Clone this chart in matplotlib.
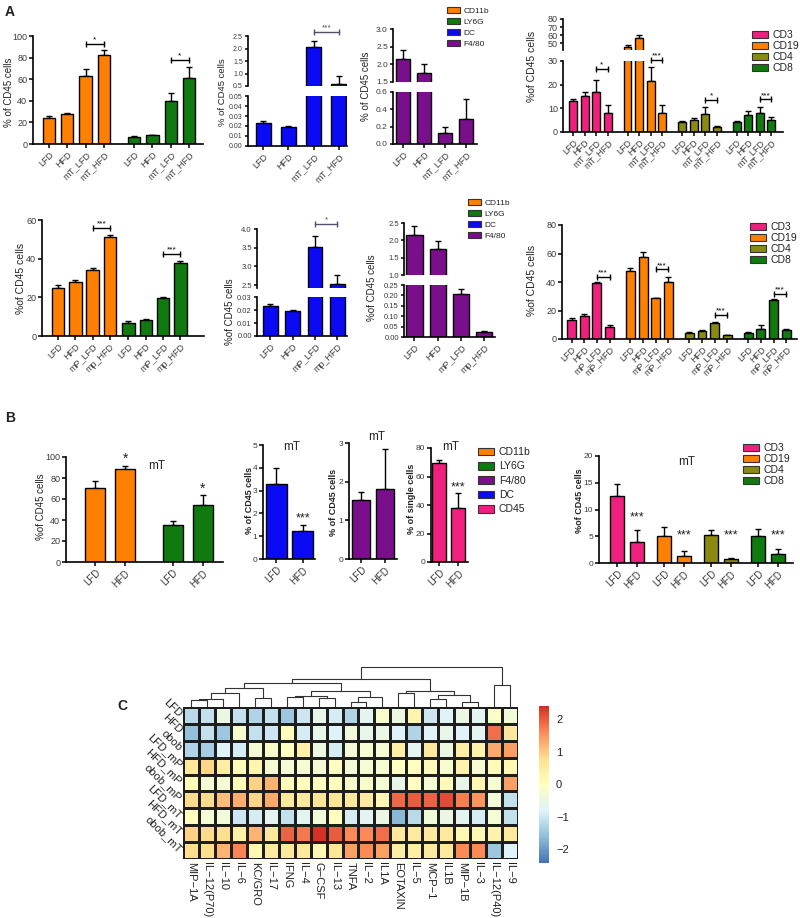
import numpy as np
import matplotlib
matplotlib.use("Agg")
import matplotlib.pyplot as plt
from matplotlib.patches import Patch
from matplotlib.colors import LinearSegmentedColormap

plt.rcParams['font.family'] = ['Liberation Sans', 'DejaVu Sans']

# ---------------- data ----------------
ORANGE = '#FF8000'
GREEN = '#107A10'
BLUE = '#0A0AF5'
PURPLE = '#7A0F8C'
PINK = '#F0207F'
OLIVE = '#8A8A10'

lab_mT = ["LFD", "HFD", "mT_LFD", "mT_HFD"]
lab_mp = ["LFD", "HFD", "mP_LFD", "mp_HFD"]
lab_mP = ["LFD", "HFD", "mP_LFD", "mP_HFD"]
lab_b = ["LFD", "HFD"]

# A, row 1 (mT)
a1_cd11b = [24, 27.5, 63, 82]
a1_cd11b_top = [26, 29, 69, 87]
a1_ly6g = [6.5, 8, 40, 61]
a1_ly6g_top = [7.5, 8.7, 47, 71]
a1_my_sig = [93, 77.5]
a1_my_star = ["*", "*"]

a1_dc = [0.023, 0.019, 2.08, 0.6]
a1_dc_top = [0.025, 0.0201, 2.32, 0.9]
a1_dc_sig = 2.65

a1_f480 = [2.15, 1.75, 0.125, 0.29]
a1_f480_top = [2.4, 2.0, 0.2, 0.52]

a1_cd3 = [13.1, 15, 16.8, 8]
a1_cd3_top = [14, 16.9, 22, 11.3]
a1_cd19 = [46, 56.5, 21.5, 8]
a1_cd19_top = [48.5, 60, 27.5, 11.5]
a1_cd4 = [4.3, 5, 7.7, 2]
a1_cd4_top = [4.8, 5.8, 10.5, 2.5]
a1_cd8 = [4.2, 7, 8.2, 5.2]
a1_cd8_top = [4.7, 9, 10.5, 6.3]
a1_ly_sig = [26.5, 30.4, 13.5, 13.8]
a1_ly_star = ["*", "***", "*", "***"]

# A, row 2 (mP)
a2_cd11b = [24.7, 27.8, 34, 51.4]
a2_cd11b_top = [26.4, 29, 35, 52]
a2_ly6g = [6.9, 8.3, 19.5, 37.9]
a2_ly6g_top = [7.8, 8.9, 20.3, 38.6]
a2_my_sig = [55.9, 42.4]

a2_dc = [0.023, 0.019, 3.53, 2.52]
a2_dc_top = [0.025, 0.020, 3.8, 2.77]
a2_dc_sig = 4.13

a2_f480 = [2.15, 1.75, 0.207, 0.024]
a2_f480_top = [2.4, 1.98, 0.23, 0.027]

a2_cd3 = [13.5, 15.8, 39.6, 8.6]
a2_cd3_top = [14.7, 17.5, 40, 9.8]
a2_cd19 = [47.8, 57.8, 28.7, 39.9]
a2_cd19_top = [50.1, 60.8, 29.1, 43.4]
a2_cd4 = [4.5, 5.5, 11.3, 2.5]
a2_cd4_top = [5.2, 6.2, 11.7, 3.0]
a2_cd8 = [4.5, 7.2, 27.5, 6]
a2_cd8_top = [5, 9.5, 28, 7]
a2_ly_sig = [43.7, 48.9, 16.8, 31.6]

# B (mT)
b_cd11b = [70.5, 88.3]
b_cd11b_top = [76.8, 91]
b_ly6g = [35.6, 54.6]
b_ly6g_top = [38.7, 64]
b_my_sig = [98, 70]
b_dc = [3.28, 1.21]
b_dc_top = [4.0, 1.5]
b_dc_sig = 1.8
b_f480 = [1.53, 1.81]
b_f480_top = [1.72, 2.85]
b_cd45 = [69.5, 38.1]
b_cd45_top = [71.3, 48.4]
b_cd45_sig = 52
b_cd3 = [12.6, 3.9]
b_cd3_top = [14.7, 6.1]
b_cd19 = [5.1, 1.4]
b_cd19_top = [6.75, 2.25]
b_cd4 = [5.2, 0.75]
b_cd4_top = [6.1, 1.0]
b_cd8 = [5.1, 1.6]
b_cd8_top = [6.4, 2.7]
b_ly_sig = [8.6, 5.2, 5.2, 5.2]

# C heatmap
hm_rows = ["LFD", "HFD", "obob", "LFD_mP", "HFD_mP", "obob_mP",
           "LFD_mT", "HFD_mT", "obob_mT"]
hm_cols = ["MIP\u22121A", "IL\u221212(P70)", "IL\u221210", "IL\u22126", "KC/GRO",
           "IL\u221217", "IFNG", "IL\u22124", "G\u2212CSF", "IL\u221213", "TNFA",
           "IL\u22122", "IL1A", "EOTAXIN", "IL\u22125", "MCP\u22121", "IL1B",
           "MIP\u22121B", "IL\u22123", "IL\u221212(P40)", "IL\u22129"]
hm_vals = [
    [-1.2, -1.1, -0.5, -1.1, -1.3, -1.1, -1.5, -1.0, -0.6, -0.9, -1.3, -0.7, -0.2, -0.45, 0.25, -1.0, -0.8, -0.5, -0.7, -0.15, -0.4],
    [-1.6, -1.1, -1.5, -0.25, -1.1, -1.0, 0.05, -0.9, -0.6, -0.8, -0.4, -0.6, -0.5, -0.8, -1.3, -0.8, -0.6, -0.8, -0.7, 1.85, 0.6],
    [-1.3, -1.4, -0.8, -0.9, -0.3, -0.2, -0.05, 0.35, -0.45, -0.9, -0.35, -0.25, -0.3, 0.4, -0.7, 0.55, -0.45, 0.45, 0.3, 1.3, 1.4],
    [0.6, 0.9, 0.45, 0.05, 0.25, -0.3, -0.35, -0.3, -0.35, -0.1, -0.35, -0.3, -0.3, -0.05, 0.0, 0.05, -0.25, 0.3, -0.3, 0.1, 0.2],
    [0.1, -0.3, -0.3, 0.05, 0.95, 1.2, 0.05, 0.0, -0.05, 0.0, -0.2, -0.2, -0.3, -0.6, 0.0, -0.3, 0.1, -0.6, 0.2, -0.3, 1.4],
    [0.85, 0.85, 1.1, 1.25, 0.9, 1.3, 0.6, 0.55, 0.7, 0.65, 0.6, 0.5, 0.2, 1.9, 2.0, 1.95, 2.15, 1.7, 1.5, -0.4, -1.1],
    [0.0, -0.3, -0.4, -1.0, -0.9, -0.7, -1.1, -0.7, -0.4, 0.0, -0.9, -0.7, -0.5, -1.7, -1.2, -0.4, -0.5, -0.7, -0.9, -0.3, -1.1],
    [0.95, 0.85, 0.8, 0.4, 1.2, 0.6, 1.95, 1.75, 2.4, 2.0, 1.6, 1.6, 1.85, 0.6, 0.5, 0.55, 0.6, 0.2, 0.15, 0.3, 0.6],
    [0.8, 0.8, 1.2, 1.65, 0.2, 0.5, 0.55, 0.6, 0.15, 0.65, 1.4, 1.6, 1.4, 0.45, 0.45, 0.5, 0.6, 1.6, 1.6, -1.5, -0.8],
]
# column dendrogram: (left, right, height) like a linkage table
col_tree = [
    (0, 1, 7.3), (21, 2, 8.0), (22, 3, 14.3), (4, 5, 9.3), (23, 24, 18.7),
    (6, 7, 10.3), (8, 9, 8.7), (26, 27, 11.3), (10, 11, 5.3), (29, 12, 9.7),
    (28, 30, 16.3), (25, 31, 23.7), (13, 14, 13.7), (15, 16, 7.7), (17, 18, 5.3),
    (34, 35, 12.0), (33, 36, 16.3), (32, 37, 27.7), (19, 20, 22.0), (38, 39, 40.3),
]

# ---------------- helpers ----------------
W, H = 800, 918
fig = plt.figure(figsize=(8, 9.18), dpi=100)


def ax_px(x0, y0, x1, y1):
    return fig.add_axes([x0 / W, 1 - y1 / H, (x1 - x0) / W, (y1 - y0) / H])


def style(ax, fs=6.5, bottom=True):
    ax.spines['top'].set_visible(False)
    ax.spines['right'].set_visible(False)
    ax.spines['left'].set_linewidth(1.2)
    ax.spines['bottom'].set_linewidth(1.2)
    ax.tick_params(direction='out', length=3, width=1.1, labelsize=fs,
                   labelcolor='#3a3a3a', pad=1.2)
    ax.set_facecolor('none')
    if not bottom:
        ax.spines['bottom'].set_visible(False)
        ax.tick_params(axis='x', bottom=False, labelbottom=False)


def draw_bars(ax, x, mean, top, color, width):
    ax.bar(x, mean, width=width, color=color, edgecolor='black', linewidth=1.0, zorder=2)
    ax.errorbar(x, mean, yerr=[np.zeros(len(mean)), np.subtract(top, mean)], fmt='none',
                ecolor='black', elinewidth=1.0, capsize=2.5, capthick=1.0, zorder=1)


def bracket(ax, x1, x2, y, text, color='black', fs=6):
    ax.plot([x1, x2], [y, y], color=color, lw=1.0, marker='|', markersize=5,
            markeredgewidth=1.0, clip_on=False, zorder=4)
    ax.annotate(text, (0.5 * (x1 + x2), y), xytext=(0, 0.3), textcoords='offset points',
                ha='center', va='bottom', fontsize=fs, color=color, annotation_clip=False)


def xlabels(ax, pos, labels, fs=6.5):
    ax.set_xticks(pos)
    ax.set_xticklabels(labels, rotation=45, ha='right', rotation_mode='anchor', fontsize=fs)


def ylab(x, y, text, fs=7, bold=False):
    fig.text(x / W, 1 - y / H, text, rotation=90, ha='center', va='center', fontsize=fs,
             fontweight='bold' if bold else 'normal', color='#222222')


def ftext(x, y, text, fs=8.5, bold=False):
    fig.text(x / W, 1 - y / H, text, ha='center', va='center', fontsize=fs,
             fontweight='bold' if bold else 'normal', color='#222222')


def legend(labels, colors, x, y, fs, spacing):
    handles = [Patch(facecolor=c, edgecolor='#333333', linewidth=0.8) for c in colors]
    fig.legend(handles, labels, loc='upper left', bbox_to_anchor=(x / W, 1 - y / H),
               frameon=False, fontsize=fs, handlelength=1.5, handleheight=0.75,
               handletextpad=0.5, labelspacing=spacing, borderpad=0, borderaxespad=0,
               labelcolor='#222222')


def group_x(n_groups, n_bars, pitch):
    return [g * pitch + np.arange(n_bars) for g in range(n_groups)]


def broken(xr, low_y, up_y, low_lim, up_lim, low_ticks, up_ticks, low_fmt, up_fmt, fs=5.5):
    lo = ax_px(xr[0], low_y[0], xr[1], low_y[1])
    up = ax_px(xr[0], up_y[0], xr[1], up_y[1])
    style(lo, fs)
    style(up, fs, bottom=False)
    lo.tick_params(axis='x', labelsize=6.5)
    lo.set_ylim(*low_lim)
    up.set_ylim(*up_lim)
    lo.set_yticks(low_ticks)
    up.set_yticks(up_ticks)
    lo.set_yticklabels([low_fmt % t for t in low_ticks])
    up.set_yticklabels([up_fmt % t for t in up_ticks])
    for a in (lo, up):
        a.tick_params(axis='y', length=2.5)
    return lo, up


# ---------------- Panel A row 1 ----------------
ax = ax_px(33, 36, 203, 144)
style(ax)
xs = group_x(2, 4, 4.67)
draw_bars(ax, xs[0], a1_cd11b, a1_cd11b_top, ORANGE, 0.68)
draw_bars(ax, xs[1], a1_ly6g, a1_ly6g_top, GREEN, 0.68)
for g in range(2):
    bracket(ax, xs[g][2], xs[g][3], a1_my_sig[g], a1_my_star[g])
ax.set_xlim(-0.88, 8.44)
ax.set_ylim(0, 100)
ax.set_yticks(range(0, 101, 20))
xlabels(ax, np.concatenate(xs), lab_mT * 2)
ylab(9, 92, "% of CD45 cells")

x4 = np.arange(4)
lo, up = broken((248, 347), (96, 146), (36, 86), (0, 0.05), (0.5, 2.5),
                np.arange(0, 0.051, 0.01), np.arange(0.5, 2.51, 0.5), "%.2f", "%.1f", fs=5)
for a in (lo, up):
    draw_bars(a, x4, a1_dc, a1_dc_top, BLUE, 0.6)
    a.set_xlim(-0.6, 3.32)
xlabels(lo, x4, lab_mT)
bracket(up, 2, 3, a1_dc_sig, "***", color='#505060')
ylab(222, 92, "% of CD45 cells", 6.8)

lo, up = broken((393, 477), (92, 144), (29, 82), (0, 0.6), (1.5, 3.0),
                np.arange(0, 0.61, 0.2), np.arange(1.5, 3.01, 0.5), "%.1f", "%.1f", fs=6)
for a in (lo, up):
    draw_bars(a, x4, a1_f480, a1_f480_top, PURPLE, 0.68)
    a.set_xlim(-0.5, 3.55)
xlabels(lo, x4, lab_mT)
ylab(366, 86, "% of CD45 cells")

lo, up = broken((563, 783), (61, 132), (19, 50), (0, 30), (42, 80),
                [0, 10, 20, 30], [50, 60, 70, 80], "%d", "%d", fs=6.5)
xs = group_x(4, 4, 4.7)
a1_ly = [(a1_cd3, a1_cd3_top, PINK), (a1_cd19, a1_cd19_top, ORANGE),
         (a1_cd4, a1_cd4_top, OLIVE), (a1_cd8, a1_cd8_top, GREEN)]
for a in (lo, up):
    for g, (m, t, c) in enumerate(a1_ly):
        draw_bars(a, xs[g], m, t, c, 0.68)
    a.set_xlim(-0.86, 18.1)
for g in range(4):
    bracket(lo, xs[g][2], xs[g][3], a1_ly_sig[g], a1_ly_star[g])
xlabels(lo, np.concatenate(xs), lab_mT * 4)
ylab(532, 66, "%of CD45 cells", 7.5)

legend(["CD11b", "LY6G", "DC", "F4/80"], [ORANGE, GREEN, BLUE, PURPLE], 447, 7, 6, 0.35)
legend(["CD3", "CD19", "CD4", "CD8"], [PINK, ORANGE, OLIVE, GREEN], 752, 30, 7.5, 0.1)

# ---------------- Panel A row 2 ----------------
ax = ax_px(42, 220, 204, 336)
style(ax)
xs = group_x(2, 4, 4.07)
draw_bars(ax, xs[0], a2_cd11b, a2_cd11b_top, ORANGE, 0.72)
draw_bars(ax, xs[1], a2_ly6g, a2_ly6g_top, GREEN, 0.72)
for g in range(2):
    bracket(ax, xs[g][2], xs[g][3], a2_my_sig[g], "***")
ax.set_xlim(-0.92, 8.43)
ax.set_ylim(0, 60)
ax.set_yticks([0, 20, 40, 60])
xlabels(ax, np.concatenate(xs), lab_mp * 2)
ylab(21, 278, "%of CD45 cells", 7.5)

lo, up = broken((257, 347), (297, 336), (229, 288), (0, 0.03), (2.42, 4.0),
                np.arange(0, 0.031, 0.01), np.arange(2.5, 4.01, 0.5), "%.2f", "%.1f")
for a in (lo, up):
    draw_bars(a, x4, a2_dc, a2_dc_top, BLUE, 0.65)
    a.set_xlim(-0.6, 3.43)
xlabels(lo, x4, lab_mp)
bracket(up, 2, 3, a2_dc_sig, "*", color='#505070')
ylab(230, 312, "%of CD45 cells")

lo, up = broken((404, 495), (285, 337), (223, 275), (0, 0.25), (1.0, 2.5),
                np.arange(0, 0.251, 0.05), np.arange(1.0, 2.51, 0.5), "%.2f", "%.1f")
for a in (lo, up):
    draw_bars(a, x4, a2_f480, a2_f480_top, PURPLE, 0.7)
    a.set_xlim(-0.45, 3.47)
xlabels(lo, x4, lab_mp)
ylab(372, 288, "%of CD45 cells")

ax = ax_px(562, 225, 797, 339)
style(ax)
xs = group_x(4, 4, 4.65)
a2_ly = [(a2_cd3, a2_cd3_top, PINK), (a2_cd19, a2_cd19_top, ORANGE),
         (a2_cd4, a2_cd4_top, OLIVE), (a2_cd8, a2_cd8_top, GREEN)]
for g, (m, t, c) in enumerate(a2_ly):
    draw_bars(ax, xs[g], m, t, c, 0.7)
    bracket(ax, xs[g][2], xs[g][3], a2_ly_sig[g], "***")
ax.set_xlim(-0.75, 17.8)
ax.set_ylim(0, 80)
ax.set_yticks(range(0, 81, 20))
xlabels(ax, np.concatenate(xs), lab_mP * 4)
ylab(532, 280, "%of CD45 cells", 7.5)

legend(["CD11b", "LY6G", "DC", "F4/80"], [ORANGE, GREEN, BLUE, PURPLE], 468, 199, 6, 0.35)
legend(["CD3", "CD19", "CD4", "CD8"], [PINK, ORANGE, OLIVE, GREEN], 750, 222, 7.5, 0.1)


# ---------------- Panel B ----------------
def star(ax, x, y, text="***", fs=9):
    ax.text(x, y, text, ha='center', va='center', fontsize=fs, color='#222222', clip_on=False)


ax = ax_px(66, 457, 223, 562)
style(ax, fs=6.5)
xb = [np.arange(2), np.arange(2) + 2.6]
draw_bars(ax, xb[0], b_cd11b, b_cd11b_top, ORANGE, 0.67)
draw_bars(ax, xb[1], b_ly6g, b_ly6g_top, GREEN, 0.67)
for g in range(2):
    star(ax, xb[g][1], b_my_sig[g], "*", 10)
ax.set_xlim(-0.97, 4.27)
ax.set_ylim(0, 100)
ax.set_yticks(range(0, 101, 20))
xlabels(ax, np.concatenate(xb), lab_b * 2, 7)
ylab(41, 507, "%of CD45 cells")
ftext(157, 466, "mT")

x2 = np.arange(2)
ax = ax_px(263, 445, 315, 559)
style(ax, fs=6)
draw_bars(ax, x2, b_dc, b_dc_top, BLUE, 0.8)
star(ax, 1, b_dc_sig)
ax.set_xlim(-0.5, 1.47)
ax.set_ylim(0, 5)
ax.set_yticks(range(0, 6))
xlabels(ax, x2, lab_b, 7)
ylab(249, 500, "% of CD45 cells", 6.5, True)
ftext(292, 447, "mT")

ax = ax_px(349, 443, 397, 559)
style(ax, fs=6)
draw_bars(ax, x2, b_f480, b_f480_top, PURPLE, 0.75)
ax.set_xlim(-0.5, 1.5)
ax.set_ylim(0, 3)
ax.set_yticks(range(0, 4))
xlabels(ax, x2, lab_b, 7)
ylab(333, 502, "% of CD45 cells", 6.5, True)
ftext(377, 437, "mT")

ax = ax_px(431, 448, 468, 562)
style(ax, fs=6)
draw_bars(ax, x2, b_cd45, b_cd45_top, PINK, 0.74)
star(ax, 1, b_cd45_sig)
ax.set_xlim(-0.42, 1.5)
ax.set_ylim(0, 80)
ax.set_yticks(range(0, 81, 20))
xlabels(ax, x2, lab_b, 7)
ylab(411, 499, "% of single cells", 6.5, True)
ftext(451, 447, "mT")

ax = ax_px(599, 456, 793, 563)
style(ax, fs=6)
xs = group_x(4, 2, 2.35)
b_ly = [(b_cd3, b_cd3_top, PINK), (b_cd19, b_cd19_top, ORANGE),
        (b_cd4, b_cd4_top, OLIVE), (b_cd8, b_cd8_top, GREEN)]
for g, (m, t, c) in enumerate(b_ly):
    draw_bars(ax, xs[g], m, t, c, 0.7)
    star(ax, xs[g][1], b_ly_sig[g])
ax.set_xlim(-0.9, 8.8)
ax.set_ylim(0, 20)
ax.set_yticks(range(0, 21, 5))
xlabels(ax, np.concatenate(xs), lab_b * 4, 7)
ylab(580, 501, "%of CD45 cells", 6.5, True)
ftext(687, 462, "mT")

legend(["CD11b", "LY6G", "F4/80", "DC", "CD45"], [ORANGE, GREEN, PURPLE, BLUE, PINK],
       478, 447, 7.5, 0.42)
legend(["CD3", "CD19", "CD4", "CD8"], [PINK, ORANGE, OLIVE, GREEN], 743, 443, 7.5, 0.1)

# ---------------- Panel C ----------------
cmap = LinearSegmentedColormap.from_list(
    "rdylbu", ['#4575B4', '#91BFDB', '#E0F3F8', '#FFFFBF', '#FEE090', '#FC8D59', '#D73027'], N=100)
hax = ax_px(183, 707, 518, 859)
mesh = hax.pcolormesh(np.array(hm_vals), cmap=cmap, vmin=-2.43, vmax=2.4,
                      edgecolors='#1e1e1e', linewidth=0.8)
hax.set_xlim(0, len(hm_cols))
hax.set_ylim(len(hm_rows), 0)
hax.set_frame_on(False)
hax.set_xticks(np.arange(len(hm_cols)) + 0.5)
hax.set_xticklabels(hm_cols, rotation=-90, ha='center', va='top', fontsize=8)
hax.set_yticks(np.arange(len(hm_rows)) + 0.5)
hax.set_yticklabels(hm_rows, rotation=-45, ha='right', va='center',
                    rotation_mode='anchor', fontsize=8)
hax.tick_params(length=0, pad=2, labelcolor='#222222')

dax = ax_px(183, 665, 518, 707)
pos = {i: i + 0.5 for i in range(len(hm_cols))}
hgt = {i: 0.0 for i in range(len(hm_cols))}
for k, (a, b, h) in enumerate(col_tree):
    dax.plot([pos[a], pos[a], pos[b], pos[b]], [hgt[a], h, h, hgt[b]],
             color='#333333', lw=0.8)
    pos[len(hm_cols) + k] = 0.5 * (pos[a] + pos[b])
    hgt[len(hm_cols) + k] = h
dax.set_xlim(0, len(hm_cols))
dax.set_ylim(0, 42)
dax.axis('off')

cax = ax_px(539, 706, 549, 863)
cb = fig.colorbar(mesh, cax=cax, ticks=[-2, -1, 0, 1, 2])
cb.outline.set_visible(False)
cax.tick_params(length=0, labelsize=8, pad=5, labelcolor='#222222')

# panel letters
ftext(10, 12, "A", 10, True)
ftext(10, 418, "B", 10, True)
ftext(122, 706, "C", 10, True)

fig.savefig("out.png", dpi=100)
